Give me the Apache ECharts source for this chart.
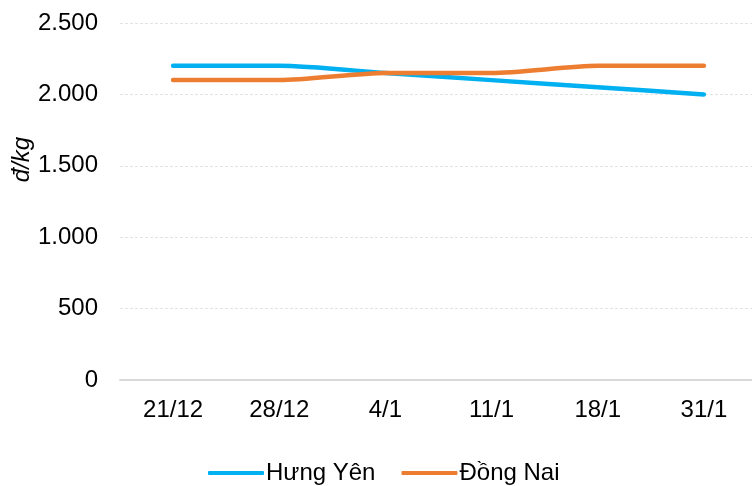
<!DOCTYPE html>
<html><head><meta charset="utf-8">
<script src="https://cdn.jsdelivr.net/npm/echarts@6/dist/echarts.min.js"></script>
<style>html,body{margin:0;padding:0;background:#fff}#c{width:752px;height:486px}</style>
</head><body><div id="c"></div>
<script>
const categories = ["21/12","28/12","4/1","11/1","18/1","31/1"];
const hungYen = [2200,2200,2150,2100,2050,2000];
const dongNai = [2100,2100,2150,2150,2200,2200];
const seriesNames = ["Hưng Yên","Đồng Nai"];
const yAxisName = "đ/kg";

const chart = echarts.init(document.getElementById('c'));
const font = "Liberation Sans, Arial, sans-serif";
chart.setOption({
  animation:false,
  textStyle:{fontFamily:font},
  grid:{left:120,right:-5,top:23,bottom:106,containLabel:false,outerBoundsMode:'none'},
  legend:{
    bottom:-4,left:203,itemWidth:56,itemHeight:4,itemGap:26,
    icon:'roundRect',
    textStyle:{fontSize:24,color:'#000',fontFamily:font,padding:[0,0,0,-3]},
    data:seriesNames
  },
  xAxis:{
    type:'category',data:categories,boundaryGap:true,
    axisLine:{lineStyle:{color:'#d9d9d9',width:2}},
    axisTick:{show:false},
    axisLabel:{fontSize:24,color:'#000',margin:18,fontFamily:font}
  },
  yAxis:{
    type:'value',min:0,max:2500,interval:500,
    name:yAxisName,nameLocation:'middle',nameGap:86,nameRotate:90,nameMoveOverlap:false,
    nameTextStyle:{fontSize:24,fontStyle:'italic',color:'#000',fontFamily:font,padding:[0,0,0,84]},
    axisLine:{show:false},axisTick:{show:false},
    splitLine:{lineStyle:{color:'#e3e3e3',type:[3,2],width:1}},
    axisLabel:{fontSize:24,color:'#000',margin:22,fontFamily:font,
      formatter:v=>String(v).replace(/\B(?=(\d{3})+(?!\d))/g,'.')}
  },
  series:[
    {name:seriesNames[0],type:'line',data:hungYen,smooth:0.25,showSymbol:false,
     lineStyle:{color:'#00b0f0',width:4.5,cap:'round'},itemStyle:{color:'#00b0f0'}},
    {name:seriesNames[1],type:'line',data:dongNai,smooth:0.25,showSymbol:false,
     lineStyle:{color:'#ed7d31',width:4.5,cap:'round'},itemStyle:{color:'#ed7d31'}}
  ]
});
</script></body></html>
